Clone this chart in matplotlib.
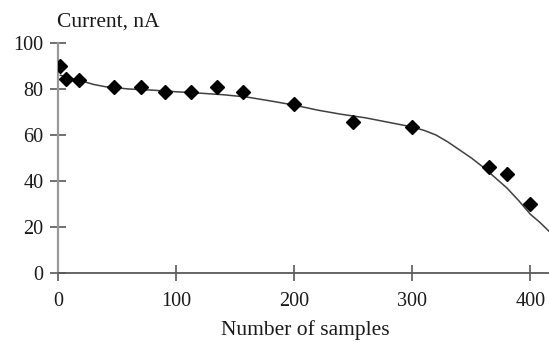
import matplotlib
matplotlib.use("Agg")
import matplotlib.pyplot as plt

# measured points (diamonds)
samples = [2, 7, 18, 47, 70, 91, 113, 135, 157, 200, 250, 300, 365, 380, 400]
current = [90, 84.5, 84, 81, 81, 78.5, 78.5, 81, 78.5, 73.5, 65.5, 63.5, 46, 43, 30]

# fitted curve
fit_x = [2, 10, 20, 30, 40, 60, 80, 100, 120, 140, 160, 180, 200, 220, 240,
         260, 280, 300, 310, 320, 330, 340, 350, 360, 370, 380, 390, 400,
         408, 416]
fit_y = [86, 84.8, 83.5, 82, 81, 80, 79.5, 78.8, 78.2, 77.5, 76.5, 74.8, 73,
         70.8, 69, 67.5, 65.5, 63.5, 62, 60, 57, 53.5, 50, 46, 41.5, 37,
         31.5, 25.5, 22, 18]

plt.rcParams['font.family'] = ['Liberation Serif', 'DejaVu Serif']

fig = plt.figure(figsize=(5.49, 3.42), dpi=100)
ax = fig.add_axes([58 / 549, 69 / 342, 491 / 549, 230 / 342])

ax.plot(fit_x, fit_y, color='0.25', lw=1.1, zorder=2)
ax.plot(samples, current, 'D', color='black', markersize=7.2, zorder=3)

ax.set_xlim(0, 415.7)
ax.set_ylim(0, 100)
ax.set_xticks([0, 100, 200, 300, 400])
ax.set_yticks([0, 20, 40, 60, 80, 100])

for s in ['top', 'right']:
    ax.spines[s].set_visible(False)
ax.spines['left'].set_color('0.6')
ax.spines['left'].set_linewidth(1.6)
ax.spines['bottom'].set_color('0.35')
ax.spines['bottom'].set_linewidth(1.3)

ax.tick_params(direction='inout', length=11, width=1.2, color='0.35',
               labelsize=14.5, labelcolor='0.1')
ax.tick_params(axis='y', pad=5)
ax.tick_params(axis='x', pad=8)

fig.text(57 / 549, 1 - 22 / 342, 'Current, nA', fontsize=15.5,
         ha='left', va='center', color='0.1')
fig.text(305 / 549, (342 - 335) / 342, 'Number of samples', fontsize=15.5,
         ha='center', va='baseline', color='0.1')

fig.savefig('out.png', dpi=100)
